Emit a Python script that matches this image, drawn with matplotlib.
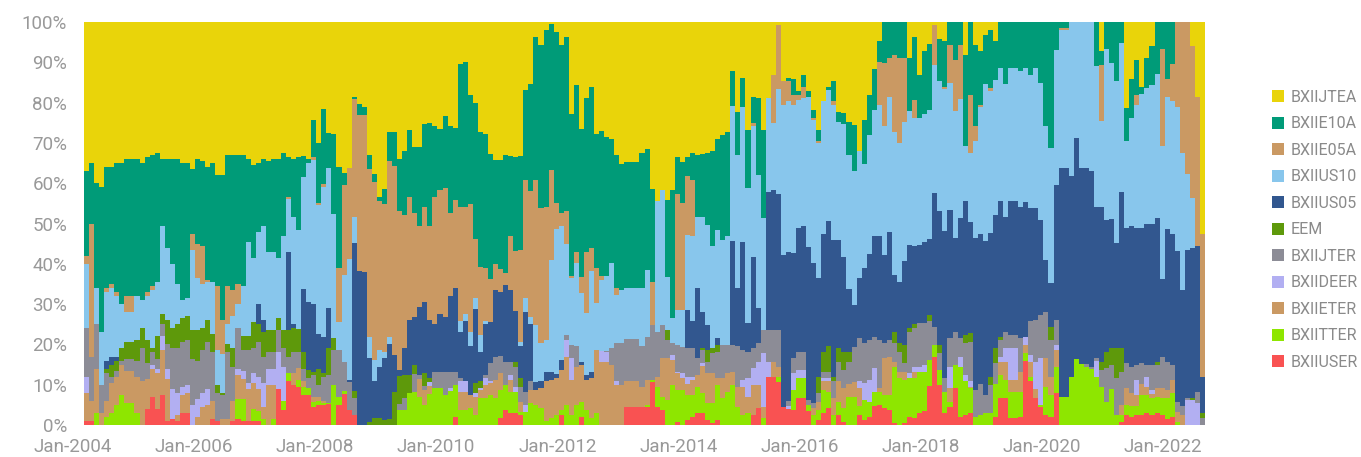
import numpy as np
import matplotlib
matplotlib.use("Agg")
import matplotlib.pyplot as plt
from matplotlib.patches import Patch
from matplotlib.transforms import ScaledTranslation

# monthly allocation shares (%), Jan-2004 .. Jun-2022
jtea = [37, 35, 40, 41, 36, 36, 35, 35, 34, 34,
        34, 35, 33.5, 33, 32.5, 34, 34, 34, 34, 35,
        35, 36.5, 34, 34.5, 36, 35, 38, 38, 33, 33,
        33, 33, 34, 35.5, 35, 34, 34.5, 34, 34, 32.5,
        33.5, 34, 33.5, 33.2, 34, 24.3, 30, 21.6, 27.6, 27.8,
        36, 37.5, 36.3, 18.5, 20.4, 21, 33, 37.7, 43.3, 41.4,
        27.2, 27.2, 33.9, 32.1, 26.9, 30.9, 30.9, 25.3, 25.1, 25.9,
        26.5, 23.3, 25.9, 26.2, 10.3, 9.9, 18.2, 20.1, 27.3, 27.8,
        32.8, 34.2, 34.2, 32.9, 33.2, 33.4, 33.2, 16.8, 15.4, 3.7,
        5.6, 2, 0.4, 2.5, 5.8, 3.7, 22.8, 15.6, 26.5, 18.9,
        16, 27.8, 27, 28.6, 29, 32.9, 35.3, 34.8, 34.8, 34.8,
        32.5, 31.5, 41.5, 44.5, 41.6, 44.1, 41.8, 33.5, 34.8, 33.5,
        32.5, 32.9, 32.8, 32.5, 32, 29, 28, 27.3, 12.1, 22.4,
        13.9, 26.7, 18.5, 18.9, 26.7, 18.9, 13.1, 0.7, 14.7, 13.9,
        14.1, 17.1, 13.1, 17.1, 21.8, 26.7, 19.7, 16, 14.7, 22.4,
        22.6, 24.8, 25.5, 32.1, 24.3, 18.2, 11.6, 4.7, 0, 0,
        0, 0, 0, 8.9, 3.7, 13.1, 7.3, 5.5, 0.8, 4.1,
        4.6, 0, 0, 0, 8.3, 0, 5.6, 7.3, 3.1, 1.9,
        4.8, 0, 0, 0, 0, 0, 0, 0, 0, 0,
        0, 0, 0, 0, 0, 0, 0, 0, 0, 0,
        0, 7.1, 0, 0, 0, 0, 21.4, 14.1, 9.4, 16,
        8.9, 6, 0, 0, 0, 0, 0, 0, 0, 6,
        18.5, 52.6]
e10a = [21, 15, 26, 36, 30, 29, 32, 35, 34, 34,
        34, 34, 33.5, 32.5, 32, 16.5, 22, 26, 31, 34,
        33.5, 16, 21, 21, 28, 29.5, 27.5, 36, 32.5, 33.5,
        32, 32.5, 20.5, 23, 17, 16.5, 22.5, 23, 24.5, 20.5,
        10, 14.5, 18, 5.3, 1, 9.3, 15, 18.6, 8.5, 19.9,
        25.1, 2.9, 0, 0.6, 2.6, 2, 3.4, 2, 1.2, 3.8,
        7.4, 8.6, 13.1, 15.7, 16.4, 16.5, 19.8, 20.5, 25.6, 17.4,
        15.1, 17.9, 21.5, 17.9, 35.5, 35.9, 27, 33.7, 33.4, 33.3,
        30.9, 25.9, 27.1, 29.4, 20, 23.4, 23.3, 22.4, 26.6, 35.5,
        40.6, 43.8, 36.3, 42.5, 41.6, 43.2, 40.1, 41.4, 36.7, 38.1,
        40, 33.3, 35.9, 34.3, 30.9, 33.2, 31.2, 31.3, 31.3, 31.3,
        33.6, 30, 22.9, 0, 0, 19.1, 31.7, 9.2, 10.2, 4.6,
        6.7, 15.6, 15.7, 17.8, 23.5, 22.6, 26.1, 25.7, 8.8, 10.5,
        7.3, 14.5, 6.6, 19, 22, 0, 0, 0, 0, 0.8,
        4.1, 1.1, 2.9, 1.4, 2, 2.9, 0, 0.8, 5, 2.3,
        2.7, 8.3, 11.4, 0, 10.9, 9.8, 10.2, 5.3, 10.2, 8.9,
        8.1, 8.9, 8.9, 13.3, 15.6, 10.7, 15.5, 16.3, 0, 10.5,
        11.6, 5.8, 9.4, 5.6, 22.4, 18, 20.1, 13.4, 12.3, 14.5,
        9.5, 11.4, 15.4, 11.4, 11.4, 12.1, 11.4, 13.1, 11.4, 15.1,
        25.7, 31.3, 6.9, 1.5, 1.5, 0, 0, 0, 0, 0,
        11, 3.5, 6.6, 10.2, 14.7, 5.1, 8.1, 9.6, 8.6, 1.9,
        7.5, 9.7, 12.9, 6.8, 14.1, 10.4, 0, 0, 0, 0,
        0, 0]
e05a = [2, 33, 0, 0, 1, 1, 1, 0, 4, 4,
        0, 0, 1, 1, 0, 0, 0, 0, 0, 0,
        0, 4, 8.5, 9.5, 0.5, 0, 16, 8.5, 9.5, 6.5,
        5, 0, 0, 0, 0, 0, 0, 0, 0, 0,
        0.5, 0, 0, 0, 0, 0.6, 0.5, 0.8, 0, 0,
        13.4, 22.3, 22.5, 29.4, 38.9, 39, 41.7, 44.2, 36.9, 36.6,
        43.5, 46.8, 39.3, 33.2, 30.6, 25.9, 19.9, 23.6, 23.2, 31.7,
        30.9, 32.1, 20.7, 22, 28.4, 26.7, 31.6, 14.7, 16.9, 13.2,
        10.8, 6.4, 5.6, 2.9, 13.3, 14.9, 22.8, 29.3, 31.1, 36,
        33.5, 33.1, 22.3, 6.3, 3.3, 8.2, 0.5, 2.9, 4.1, 15.3,
        5.8, 8.7, 1.1, 0, 0, 1.6, 0, 0, 0, 0,
        0, 0, 10.8, 0, 0, 0, 0, 28.7, 26.4, 14.7,
        14, 0, 0, 0, 0, 0, 0, 0, 0, 0,
        0, 0, 0.6, 0, 0, 0, 12, 16, 6, 4.8,
        2.5, 1.1, 2.9, 0, 0.4, 0.4, 0, 0, 0.8, 0,
        0, 0, 0, 0, 0, 0, 0, 10.5, 15.7, 9.8,
        19.1, 21.1, 15.8, 0, 4.5, 0, 0, 0, 9.8, 0,
        0.4, 9.3, 12.6, 13.6, 0, 14.5, 3.8, 0.5, 0, 0.6,
        0, 0, 0, 0, 0, 0, 0, 0, 0, 0,
        0, 0, 0, 0.5, 0.5, 0, 0, 0, 0, 0,
        0, 13.9, 0, 0, 0, 0, 0, 0, 2.5, 0,
        0, 0, 0, 24, 4.6, 9.3, 21.2, 32.5, 37.7, 37.7,
        37, 35.4]
us10 = [16, 0, 9, 13, 17, 17, 15, 11, 7.5, 7.5,
        11, 7, 11, 14.5, 13.5, 22, 18, 16, 10, 4.5,
        4.5, 20, 13, 11, 9.5, 13, 8.5, 9.5, 5, 8,
        6, 12.5, 23.5, 16, 18, 23.5, 19.5, 19.5, 15, 23.5,
        13, 26.5, 24.7, 27.7, 34.4, 35.8, 32, 37.1, 34.9, 30.8,
        6.9, 21.6, 30, 6.4, 0, 0, 5.3, 5.2, 4.1, 1.5,
        1.9, 0, 0, 0, 0, 0, 0, 0, 0, 0,
        0, 0, 0, 0, 2.6, 1.8, 3.7, 2.6, 4.2, 0.7,
        0, 0, 0, 0, 0, 0, 1.2, 3.4, 1.9, 14.2,
        9.5, 7.9, 27.8, 36.1, 33.2, 22.5, 16.7, 20.6, 17, 15.3,
        25, 11.6, 17.6, 18.7, 21.1, 12, 13.2, 12.5, 12.5, 12.5,
        14.4, 16.6, 0, 32.3, 33.6, 13.2, 6.2, 8.7, 9.3, 18.6,
        21, 17.4, 23.4, 24.9, 25.5, 26.9, 26, 27.1, 33.4, 33,
        33.4, 33.6, 32.5, 33.1, 27.7, 23.2, 16.5, 26, 37.2, 37.6,
        36.7, 31.9, 31.8, 37.4, 35.7, 33.6, 32.9, 32.5, 33.6, 29.4,
        32.9, 33.1, 33.1, 31.3, 25.9, 29.6, 31.4, 32.5, 31.9, 33.3,
        35.5, 34.4, 34.6, 33.1, 31.7, 31.5, 31.8, 32, 31.9, 32.3,
        35.2, 31.5, 31.6, 29.5, 13.8, 17, 24.1, 31.4, 38.9, 35.4,
        33.5, 33.1, 33.1, 33.1, 33.1, 33.7, 33.3, 33.1, 34.8, 34,
        33.3, 33.5, 33.5, 34.3, 34.3, 38.2, 28.8, 36.3, 36.3, 37,
        34.8, 21.5, 42.5, 38.6, 40.2, 37.1, 21.5, 27, 30.5, 33.1,
        33.8, 34.5, 35.8, 32.9, 32.6, 33, 35.6, 34, 18.8, 12.3,
        0, 0]
us05 = [0, 0, 0, 0, 2, 2, 1, 0, 0, 0,
        0, 0, 0, 0, 0, 0, 0, 0, 0, 0,
        0, 0, 0, 0, 0, 0, 0, 0, 0, 0,
        0, 0, 0, 0, 5, 3, 0, 0, 0, 0,
        19.5, 1, 0, 15.6, 16.9, 16.8, 8.5, 8.9, 10, 0,
        0, 0, 0.5, 36.7, 38.1, 38, 15.8, 9.2, 12.8, 15.4,
        18.4, 9.1, 1.5, 6.6, 13.7, 11.8, 17, 17.8, 14.5, 11.9,
        14.4, 13.5, 18.7, 20.7, 11.6, 14.9, 12, 18.5, 7.4, 12.6,
        10.2, 16.5, 15.9, 19.1, 17.8, 12.6, 7.9, 19.8, 14.2, 1.9,
        1.7, 2.4, 2, 1, 2.4, 0, 0, 0, 0.8, 1.2,
        1.6, 0, 0, 0, 0, 0, 0, 0, 0, 0,
        0, 0, 0, 0, 0, 0, 0, 0, 0, 9.4,
        6.8, 17.4, 8.9, 6.2, 0, 1.6, 0, 0, 25.8, 14.6,
        26.8, 7, 22.8, 8.7, 0, 34.3, 34.8, 33.7, 37.6, 36.9,
        26, 30.6, 31.1, 37.9, 34.7, 24.4, 29.2, 31.2, 33.9, 26.9,
        23.6, 15.6, 10.5, 14.9, 18.6, 21.3, 24.9, 25.9, 21.9, 26.9,
        14.1, 15.3, 20.8, 20.7, 19.5, 19.5, 20.2, 18.9, 33.3, 33.2,
        36.6, 31.7, 23.2, 29.8, 33.1, 27.7, 37.7, 37.3, 38.2, 35.6,
        33.2, 33.6, 28.3, 33.1, 33.1, 32.7, 33.4, 28.1, 27.7, 23.6,
        12.9, 10.8, 33.5, 56.7, 56.7, 49.8, 54.8, 48.6, 48.6, 48.5,
        37.6, 38.3, 32.7, 32.2, 26.1, 38.8, 33.7, 34.8, 34.1, 33.7,
        34.9, 34.9, 35.6, 19.3, 33, 32.4, 37.4, 28.9, 36.9, 37.4,
        36.2, 9.1]
eem = [0, 0, 0, 0, 1, 3, 2.5, 3, 4, 4,
       5, 5, 5.5, 1, 5.5, 2.5, 6, 5, 6, 6,
       6, 7, 7.5, 5.5, 5.5, 4.5, 2, 0.5, 2, 4.5,
       0, 3.5, 3.5, 6.5, 4.5, 6, 5.5, 5.5, 3, 4.5,
       6.5, 6, 5.6, 4.2, 2.1, 0.8, 4, 1, 6.6, 2.9,
       0, 0, 0, 1.6, 0, 0, 0.8, 1.7, 1.7, 1.3,
       1.6, 8.3, 7, 5.8, 4.5, 2.3, 0, 3, 1, 0,
       0, 0, 0, 0, 0, 0, 0, 2.5, 1.5, 0,
       0, 0, 0, 0, 0, 1.2, 2.1, 0, 0, 0,
       0, 0, 0, 0, 0, 0, 0, 0, 0, 0,
       0, 0, 0, 0, 0, 0, 0, 0, 0, 0,
       0, 0, 0, 0, 0, 2.5, 0, 0, 0, 0,
       0, 0, 0.6, 2.9, 1.2, 1.7, 0, 0, 0, 0,
       0, 0, 0, 0, 0, 0, 0, 0, 0, 0,
       0, 0, 0, 0, 0, 4.1, 5, 6.3, 1.2, 3.3,
       4.5, 2.5, 0, 0, 0, 0, 0, 0, 0, 0,
       2.9, 2.1, 4.6, 1, 1, 0, 0, 1.6, 0, 2.1,
       0, 0, 0, 0, 2.1, 2.3, 0, 0, 0, 2.1,
       3.7, 0.8, 0, 0, 0, 0, 0, 0, 0, 0,
       0, 3.3, 0, 0, 0, 0, 0, 0, 0, 0,
       0, 2, 4.1, 4.1, 7.4, 5.8, 0, 0, 0, 0,
       0, 0, 0.8, 0, 0, 0, 0, 0, 0, 0.4,
       0, 1.2]
jter = [12, 11, 11, 7, 7, 1.5, 1.5, 1, 3, 3,
        4, 8, 4, 3, 2.5, 3, 6, 10, 11, 11,
        11, 11.5, 9.5, 10.5, 11.5, 12, 7, 6, 16.5, 8.5,
        10, 5, 8, 6, 8.5, 6.5, 4, 4, 5.5, 4.5,
        4, 5, 4.1, 3, 2.5, 5.4, 3, 6, 7, 8.7,
        11.6, 7.3, 6.9, 4.3, 0, 0, 0, 0, 0, 0,
        0, 0, 1.5, 2.9, 0, 4.3, 1, 1, 0, 4,
        4, 5.7, 4.1, 3.3, 0.8, 0, 0, 0, 0, 0.8,
        4.5, 5.8, 4.4, 5.8, 3.3, 5, 3.7, 3.3, 2.1, 0,
        0, 0, 0, 0, 0, 1.2, 3.3, 5, 0, 0,
        0, 0, 0, 0.4, 4.1, 9.4, 10.4, 10.6, 10.6, 10.6,
        10, 10.7, 13.6, 11.2, 8.2, 4.5, 2.9, 6.7, 6.5, 7.4,
        7, 4.3, 3.1, 2.9, 5, 6.6, 8.3, 7.1, 6.7, 10,
        7.4, 6.6, 4.9, 4.6, 5.8, 7.9, 7.9, 9.1, 0, 1.4,
        3.8, 4.5, 4.5, 1.2, 1.3, 2.1, 1.6, 1.6, 4.2, 4.9,
        4.6, 5.4, 8.7, 10.9, 9.9, 10, 7.8, 12, 3.7, 4.1,
        4.6, 5, 2.1, 10.2, 9.5, 10.7, 10.4, 9.6, 4.3, 4.1,
        3.3, 7.2, 8.3, 4.5, 7.9, 9.7, 6.7, 7.6, 4.6, 7,
        5, 4.1, 4.2, 3.4, 3.4, 8.3, 0, 8.3, 10.4, 10.7,
        11.4, 9.1, 6.2, 0, 0, 0, 0, 0, 0.6, 0.5,
        0.6, 4.3, 8.5, 6, 9.1, 8.2, 6.2, 6.6, 3.7, 5,
        2.9, 6.2, 5.8, 7.9, 7, 3.7, 2.5, 2.1, 0.4, 0,
        2.9, 1.7]
deer = [4, 0, 0, 0, 0, 0, 0, 0, 0, 0,
        0, 0, 0, 1, 1, 3.5, 2.5, 7.5, 5.5, 2,
        2, 5, 4.5, 3.5, 4, 0, 0, 0, 0, 0,
        1.5, 2, 1.5, 2.5, 3, 6, 4, 4, 9, 8.5,
        0, 0, 0, 0, 0, 0, 0, 0, 0, 0,
        0, 0, 0, 0, 0, 0, 0, 0, 0, 0,
        0, 0, 0, 0, 0, 0, 0, 0, 1, 0,
        0, 0, 0.6, 0, 2.5, 2.5, 0, 0.9, 0.5, 1.7,
        0.4, 0, 0, 0, 1.2, 1.2, 0, 1.7, 0, 0,
        0, 0, 0, 0, 0, 4.2, 5.4, 0, 0, 0,
        0, 0, 2.7, 2.3, 0, 1, 0, 0, 0, 0,
        0, 0, 0, 0, 0, 0, 1.3, 0.4, 1.2, 1.7,
        0.8, 0, 0.8, 0, 0, 0, 0, 0, 0, 0,
        1.7, 4.6, 4.2, 5.8, 13.3, 3.7, 0, 0, 0, 0.6,
        4.1, 2.1, 2.1, 0, 0, 0, 0.8, 0.8, 0, 0,
        0, 0, 0, 1.7, 4.2, 5.4, 5.8, 0, 0, 0,
        0, 0, 0, 1.2, 1.3, 1.3, 1.7, 0, 0, 0,
        0, 5.4, 0, 2.5, 1.6, 1.3, 0, 0, 0, 0,
        0, 1.3, 3.3, 7.8, 7.8, 0, 2, 1.7, 6.7, 11.6,
        0, 0, 1.3, 0, 0, 0, 0, 0, 0, 0,
        4, 0, 0, 0, 0, 0, 0, 0, 3.7, 0,
        2.5, 1.1, 0, 0, 0, 0, 0, 0, 6.2, 6.2,
        5.4, 0]
eter = [7, 5, 11, 3, 4, 7.5, 7, 7.5, 8, 8,
        9, 11, 7.5, 7, 9, 11, 10.5, 0, 1.5, 4.5,
        5, 0, 2, 4.5, 5, 4.5, 0, 1.5, 1.5, 5,
        6, 5, 8, 6.5, 5.5, 3, 10, 8.5, 0, 0,
        0, 3, 2.9, 1.5, 0, 1.2, 1, 0.5, 0, 0,
        0, 0, 0, 0, 0, 0, 0, 0, 0, 0,
        0, 0, 0, 0, 0, 0, 4.4, 3.8, 2, 0,
        0, 0, 0, 0, 4.6, 4.6, 3.3, 4.5, 2.2, 3.3,
        2.9, 4.6, 4.1, 0, 2.9, 0, 2.5, 0, 3.3, 3.7,
        5, 9.8, 9.5, 9.1, 10, 12, 8.7, 9.5, 9.1, 7.5,
        9.9, 15.7, 15.7, 15.7, 14.9, 9.9, 9.9, 6.3, 6.3, 6.3,
        5, 6.3, 0, 2.5, 9.6, 10.4, 6.2, 4.1, 2.9, 2.6,
        3.7, 2.9, 6.8, 7.4, 7.4, 1.7, 5, 4.5, 3.3, 5,
        7, 4.1, 7.4, 5.8, 2.8, 0, 3.7, 2.5, 0, 0,
        0, 0, 0, 0, 1.6, 2.1, 2.1, 2.5, 4.1, 5,
        5, 3.3, 3.7, 4.3, 0, 0, 0, 0.8, 9.1, 9.5,
        1.2, 1.6, 2, 0, 1.6, 0, 0, 0, 0, 0,
        0, 3.3, 0, 0, 0, 0.4, 0, 0, 0, 0,
        0, 3.3, 4.5, 2.9, 2.9, 4.9, 2, 3.7, 2.4, 0,
        7.2, 4.5, 4.1, 0, 0, 0, 0, 0, 0, 0,
        0, 0, 0, 0, 0, 2.5, 4.1, 3.3, 2.9, 2.8,
        2, 1, 2.1, 2.5, 2.1, 3.3, 2.5, 2.5, 0, 0,
        0, 0]
tter = [0, 0, 3, 0, 2, 3, 5, 7.5, 5.5, 5.5,
        3, 0, 0, 0, 0, 0, 0, 0, 0, 0,
        0, 0, 0, 0, 0, 0, 0, 0, 0, 0,
        5, 5.5, 0, 3, 2.5, 1.5, 0, 1.5, 0, 2.3,
        2, 0, 1.7, 2, 1.6, 1.3, 1, 0.6, 0.3, 9.9,
        2, 0.7, 0, 0, 0, 0, 0, 0, 0, 0,
        0, 0, 3.7, 3.7, 7.9, 8.3, 7, 5, 7.6, 9.1,
        9.1, 7.5, 8.5, 7.8, 3.7, 3.7, 4.2, 2.5, 6.6, 6.6,
        7.5, 6.6, 6.9, 6.2, 5.4, 5.4, 0.8, 3.3, 5.4, 5,
        4.1, 1, 1.7, 2.5, 1.2, 5, 2.5, 5, 3.8, 3.7,
        1.7, 2.9, 0, 0, 0, 0, 0, 0, 0, 0,
        0, 0.4, 0.6, 5, 3.3, 6.2, 9.9, 7.9, 8.7, 6.3,
        5.5, 6.6, 4.8, 4.2, 4.8, 8.7, 6.6, 8.3, 9.9, 4.5,
        2.5, 2.9, 0, 0, 1.7, 0, 0, 1.4, 0, 0,
        5, 5, 5, 1.5, 2.5, 2.5, 5.8, 4.2, 2.5, 3.3,
        3.3, 7, 7, 2.3, 5, 3.7, 3.7, 3.3, 3.4, 3.8,
        14.1, 11.6, 10.8, 9.6, 9.9, 10.3, 9.5, 6.3, 3.1, 3.8,
        5.4, 1.3, 5.8, 12.5, 8.3, 6.2, 2, 2.5, 2.9, 2.9,
        8.3, 5.8, 4.6, 6.6, 6.6, 6.3, 2, 1.2, 0, 0.5,
        7, 5.5, 6.6, 7, 7, 12, 16.4, 15.1, 14.5, 14,
        12, 9.4, 5.6, 8.9, 2.5, 1.7, 2.5, 2.6, 2.1, 5,
        4.6, 4.1, 4.1, 4.1, 5.1, 5.9, 0.8, 0, 0, 0,
        0, 0]
user = [1, 1, 0, 0, 0, 0, 0, 0, 0, 0,
        0, 0, 4, 7, 4, 7.5, 1, 1.5, 1, 3,
        3, 0, 0, 0, 0, 1.5, 1, 0, 0, 1,
        1.5, 1, 1, 1, 1, 0, 0, 0, 9, 3.7,
        11, 10, 9.5, 7.5, 7.5, 4.5, 5, 4.9, 5.1, 0,
        5, 7.7, 3.8, 2.5, 0, 0, 0, 0, 0, 0,
        0, 0, 0, 0, 0, 0, 0, 0, 0, 0,
        0, 0, 0, 2.1, 0, 0, 0, 0, 0, 0,
        0, 0, 1.8, 3.7, 2.9, 2.9, 2.5, 0, 0, 0,
        0, 0, 0, 0, 2.5, 0, 0, 0, 2, 0,
        0, 0, 0, 0, 0, 0, 0, 4.5, 4.5, 4.5,
        4.5, 4.5, 10.6, 4.5, 3.7, 0, 0, 0.8, 0, 1.2,
        2, 2.9, 3.1, 1.2, 0.6, 1.2, 0, 0, 0, 0,
        0, 0, 2.5, 4.1, 0, 12, 12, 10.6, 4.5, 4,
        3.7, 6.6, 6.6, 3.5, 0, 1.2, 2.9, 4.1, 0, 2.5,
        0.8, 0, 0, 2.5, 1.2, 2, 4.6, 5, 4.1, 3.7,
        0.4, 0, 0.4, 2, 1.7, 2.9, 3.6, 9.8, 16.8, 9.9,
        2.9, 4.5, 9.1, 2, 2.5, 2.9, 0, 0, 0, 0,
        2, 6.6, 6.6, 1.7, 1.7, 2, 15.9, 10.8, 6.6, 4.5,
        2.5, 2, 7.9, 0, 0, 0, 0, 0, 0, 0,
        0, 0, 0, 0, 0, 0.8, 2.5, 2, 2.5, 2.5,
        2.9, 2.5, 2.9, 2.5, 1.5, 2, 0, 0, 0, 0,
        0, 0]

names = ["BXIIUSER", "BXIITTER", "BXIIETER", "BXIIDEER", "BXIIJTER", "EEM",
         "BXIIUS05", "BXIIUS10", "BXIIE05A", "BXIIE10A", "BXIIJTEA"]
series = [user, tter, eter, deer, jter, eem, us05, us10, e05a, e10a, jtea]
colors = ["#F95252", "#8EE600", "#CA9963", "#B2AFF2", "#8C8C96", "#5E990B",
          "#32578F", "#88C6EC", "#CA9963", "#009B78", "#E9D40A"]

tick_pos = list(range(0, 217, 24))
tick_lab = ["Jan-%d" % y for y in range(2004, 2023, 2)]

n = len(jtea)
x = np.arange(n)

fig = plt.figure(figsize=(13.61, 4.57), dpi=100)
ax = fig.add_axes([0.0617, 0.070, 0.8237, 0.8818])

bottom = np.zeros(n)
for vals, c in zip(series, colors):
    v = np.array(vals, dtype=float)
    ax.bar(x, v, width=1.0, bottom=bottom, color=c, linewidth=0,
           antialiased=False)
    bottom += v

for s in ax.spines.values():
    s.set_visible(False)

txt = "#999999"
ax.set_yticks(range(0, 101, 10))
ax.set_yticklabels(["%d%%" % v for v in range(0, 101, 10)])
ax.set_xticks(tick_pos)
ax.set_xticklabels(tick_lab)
ax.set_xlim(-0.5, n - 0.5)
ax.set_ylim(0, 100)
ax.tick_params(axis="both", length=0, colors=txt, labelsize=13.5)
ax.tick_params(axis="y", pad=12)
ax.tick_params(axis="x", pad=9)
shift = ScaledTranslation(-0.14, 0, fig.dpi_scale_trans)
for lab in ax.get_xticklabels():
    lab.set_fontfamily("Roboto")
    lab.set_transform(lab.get_transform() + shift)
for lab in ax.get_yticklabels():
    lab.set_fontfamily("Roboto")

handles = [Patch(facecolor=c, edgecolor="none") for c in colors[::-1]]
leg = fig.legend(handles, names[::-1], loc="upper left",
                 bbox_to_anchor=(0.924, 0.835), frameon=False,
                 handlelength=0.75, handleheight=0.75, handletextpad=0.45,
                 labelspacing=0.72, prop={"family": "Roboto", "size": 11.5})
for t in leg.get_texts():
    t.set_color("#8a8a8a")

fig.savefig("out.png", dpi=100, facecolor="white")
